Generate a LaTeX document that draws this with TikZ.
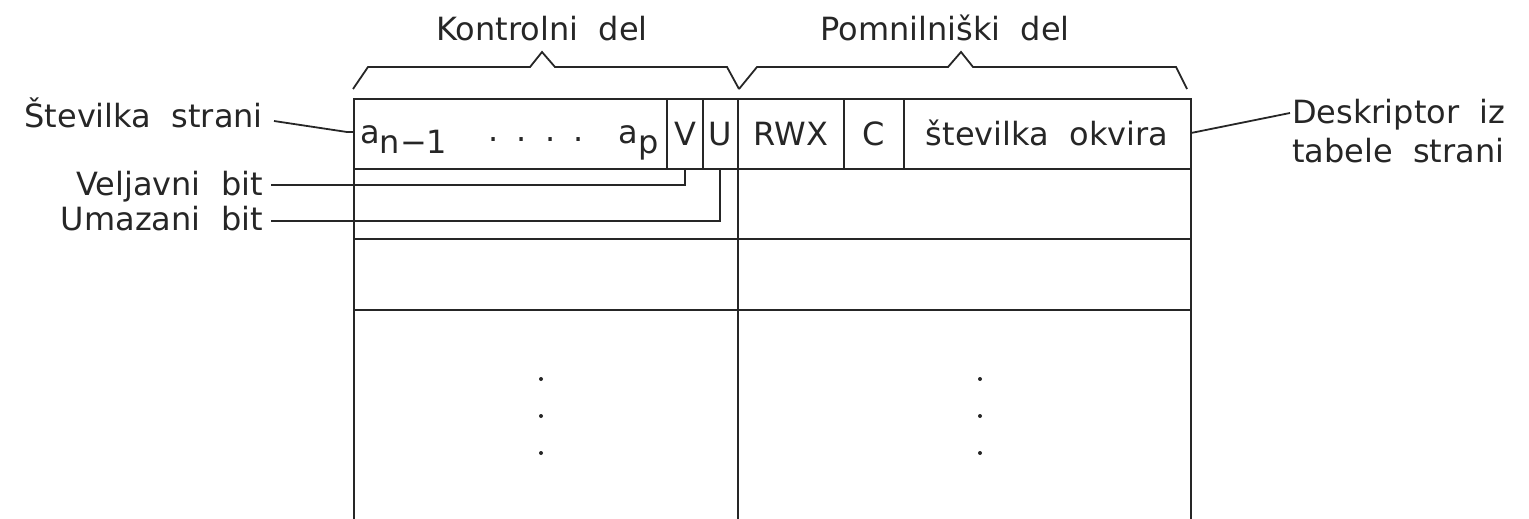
\documentclass[tikz,border=0pt]{standalone}
\usepackage{fontspec}
\setmainfont{DejaVu Sans}[WordSpace=2]
\begin{document}
\begin{tikzpicture}[x=1pt,y=-1pt,
  lbl/.style={inner sep=0pt, font=\fontsize{32}{38}\selectfont, text=black!85},
  ln/.style={line width=2pt, black!85},
  thinln/.style={line width=1.8pt, black!85},
  dotmark/.style={circle, fill=black!85, inner sep=0pt, minimum size=4pt}]
\useasboundingbox (0,0) rectangle (1529,519);
% ---- table frame
\coordinate (tl) at (354,99);
\coordinate (tr) at (1191,99);
\coordinate (bl) at (354,519);
\coordinate (br) at (1191,519);
\coordinate (tm) at (738,99);
\coordinate (bm) at (738,519);
\draw[ln] (bl) -- (tl) -- (tr) -- (br);
\draw[ln] (tm) -- (bm);
\foreach \yy in {169,239,310}{\draw[ln] (354,\yy) -- (1191,\yy);}
\foreach \xx in {667,703,844,904}{\draw[ln] (\xx,99) -- (\xx,169);}
% ---- first row content
\node[lbl, anchor=base west] (a1) at (360,143) {a\raisebox{-10pt}{n−1}};
\node[lbl, anchor=base] (dd) at (536,141) {.\hspace{18pt}.\hspace{18pt}.\hspace{18pt}.};
\node[lbl, anchor=base east] (ap) at (659,143) {a\raisebox{-10pt}{p}};
\node[lbl, anchor=base] (V) at (685,145) {V};
\node[lbl, anchor=base] (U) at (720,145) {U};
\node[lbl, anchor=base] (rwx) at (791,145) {RWX};
\node[lbl, anchor=base] (C) at (874,145) {C};
\node[lbl, anchor=base] (okv) at (1047,145) {številka okvira};
% ---- vertical dots
\foreach \yy in {379,416,453}{
  \node[dotmark] at (541,\yy) {};
  \node[dotmark] at (980,\yy) {};
}
% ---- braces
\draw[thinln] (353,89) -- (368,67) -- (530,67) -- (542,52) -- (555,67) -- (727,67) -- (739,89);
\draw[thinln] (739,89) -- (757,67) -- (948,67) -- (961,52) -- (973,67) -- (1176,67) -- (1187,89);
\node[lbl, anchor=base] (kd) at (542,41) {Kontrolni del};
\node[lbl, anchor=base] (pd) at (945,41) {Pomnilniški del};
% ---- left labels
\node[lbl, anchor=base east] (sts) at (263,127) {Številka strani};
\node[lbl, anchor=base east] (vb) at (263,195) {Veljavni bit};
\node[lbl, anchor=base east] (ub) at (263,230) {Umazani bit};
\coordinate (stsE) at (274,121);
\coordinate (stsB) at (347,132);
\coordinate (stsT) at (354,132);
\draw[thinln] (stsE) -- (stsB) -- (stsT);
\coordinate (vbE) at (271,185);
\coordinate (vbC) at (685,185);
\coordinate (vbT) at (685,169);
\draw[thinln] (vbE) -- (vbC) -- (vbT);
\coordinate (ubE) at (271,221);
\coordinate (ubC) at (720,221);
\coordinate (ubT) at (720,169);
\draw[thinln] (ubE) -- (ubC) -- (ubT);
% ---- right label
\node[lbl, anchor=base west] (des) at (1292,123) {Deskriptor iz};
\node[lbl, anchor=base west] (tab) at (1292,162) {tabele strani};
\coordinate (desS) at (1191,133);
\coordinate (desE) at (1290,113);
\draw[thinln] (desS) -- (desE);
\end{tikzpicture}
\end{document}
